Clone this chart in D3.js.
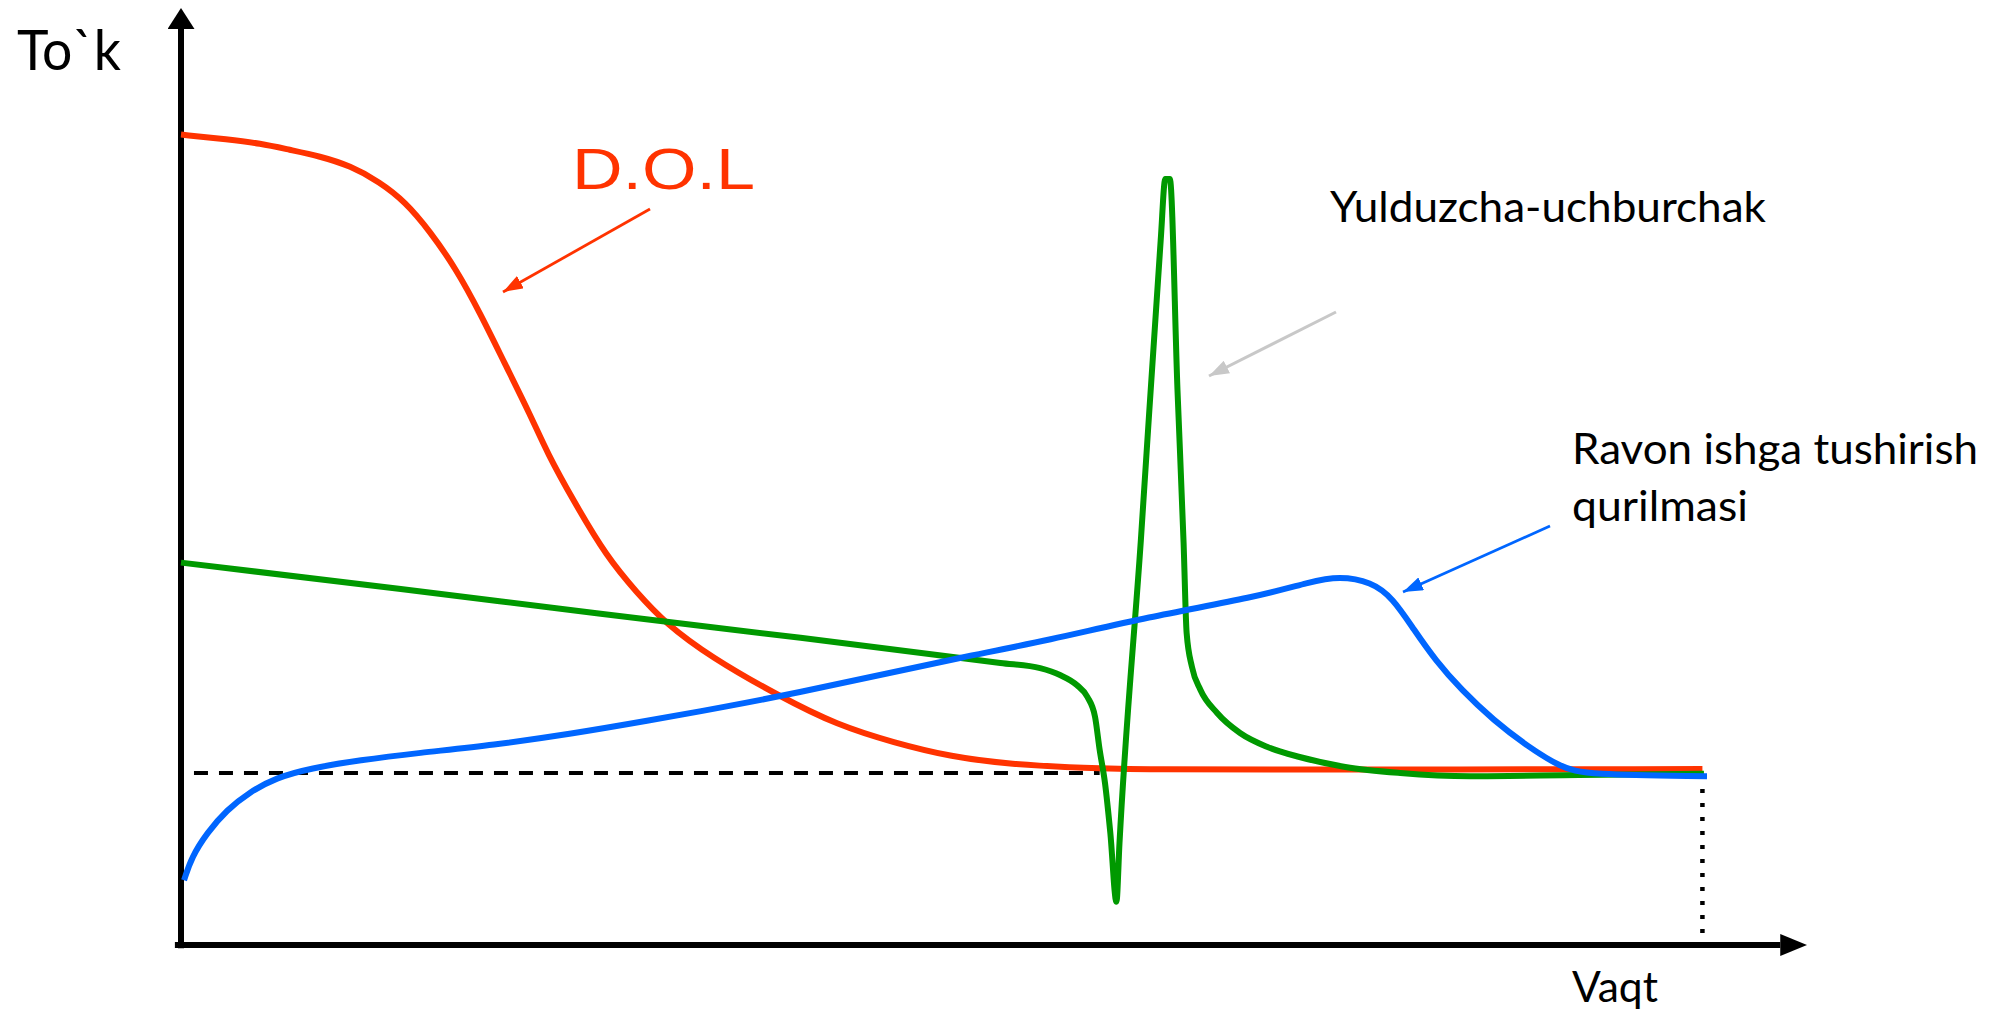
<!DOCTYPE html>
<html>
<head>
<meta charset="utf-8">
<script src="https://cdn.jsdelivr.net/npm/d3@7"></script>
<style>
  html, body { margin: 0; padding: 0; background: #fff; overflow: hidden; }
  svg { display: block; }
  .label { font-family: Lato, "Open Sans", sans-serif; fill: #000; }
</style>
</head>
<body>
<div id="app"></div>
<script>
const width = 2002,
  height = 1009;

// D.O.L (to'g'ridan-to'g'ri ulash) - current over time
const dolTime = [0, 3.1, 5.2, 7.1, 9.1, 11.1, 13.0, 14.7, 16.3, 18.0, 19.6, 21.2, 22.9, 24.0, 25.7, 27.9, 29.9, 31.7, 34.7, 39.3, 43.0, 46.7, 50.5, 54.3, 59.3, 63.3, 73.3, 99.7];
const dolCurrent = [101.3, 100.7, 100.2, 99.4, 98.6, 97.4, 95.4, 92.9, 89.25, 84.6, 79.0, 72.75, 66.25, 61.5, 55.6, 48.5, 44.0, 40.3, 36.0, 31.0, 27.5, 25.3, 23.5, 22.6, 22.1, 21.95, 21.9, 22.0];

// Yulduzcha-uchburchak
const starDeltaTime = [0, 14.4, 27.5, 40.6, 53.7, 56.3, 57.6, 58.7, 59.4, 59.9, 60.2, 60.55, 60.9, 61.3, 61.5, 62.9, 64.2, 64.5, 64.8, 65.3, 65.7, 65.9, 66.25, 66.8, 67.9, 69.4, 71.2, 73.3, 76.3, 79.9, 84.5, 91.6, 99.8];
const starDeltaCurrent = [47.8, 44.5, 41.4, 38.4, 35.25, 34.6, 33.75, 32.5, 31.0, 28.5, 24.4, 20.25, 14.0, 5.4, 12.75, 50.6, 88.1, 95.75, 95.75, 69.4, 50.3, 39.0, 34.75, 31.9, 29.0, 26.5, 24.75, 23.5, 22.25, 21.5, 21.1, 21.25, 21.4];

// Ravon ishga tushirish qurilmasi
const softTime = [0.2, 0.7, 1.7, 3.0, 4.5, 6.2, 8.5, 11.7, 15.5, 20.5, 25.6, 30.5, 35.6, 40.6, 45.8, 51.0, 56.9, 63.3, 70.5, 74.0, 75.9, 78.0, 79.4, 80.8, 82.2, 83.9, 86.0, 88.3, 90.4, 92.1, 100];
const softCurrent = [8.1, 11.0, 14.0, 16.9, 19.1, 20.9, 22.1, 23.1, 24.0, 25.0, 26.4, 28.0, 29.75, 31.6, 33.75, 35.9, 38.1, 41.0, 43.5, 45.4, 46.1, 45.4, 43.4, 39.4, 35.6, 31.9, 28.1, 24.75, 22.25, 21.25, 21.1];

// nominal current level (dashed) and end of start (dotted)
const ratedCurrent = 21.5;
const ratedSpan = [0.85, 60.2];
const endTime = 99.7;
const endSpan = [0, 19.5];

const x = d3.scaleLinear().domain([0, 100]).range([181, 1707]);
const y = d3.scaleLinear().domain([0, 100]).range([945, 145]);

const svg = d3
  .select("#app")
  .append("svg")
  .attr("width", width)
  .attr("height", height)
  .style("background", "#fff");

const defs = svg.append("defs");

function addMarker(id, len, wid, color, tipAtEnd) {
  defs
    .append("marker")
    .attr("id", id)
    .attr("markerUnits", "userSpaceOnUse")
    .attr("viewBox", `0 0 ${len} ${wid}`)
    .attr("markerWidth", len)
    .attr("markerHeight", wid)
    .attr("refX", tipAtEnd ? len : 0)
    .attr("refY", wid / 2)
    .attr("orient", "auto")
    .append("path")
    .attr("d", `M0,0L${len},${wid / 2}L0,${wid}Z`)
    .attr("fill", color);
}

addMarker("axis-y", 21, 27, "#000", false);
addMarker("axis-x", 27, 22, "#000", false);
addMarker("arr-red", 20, 14, "#ff3300", true);
addMarker("arr-gray", 20, 14, "#c8c8c8", true);
addMarker("arr-blue", 20, 14, "#0066ff", true);

const line = d3
  .line()
  .x((d) => x(d[0]))
  .y((d) => y(d[1]));

//axes drawn as plain arrows, no ticks
svg
  .append("path")
  .attr("d", line([[0, -0.4], [0, 114.5]]))
  .attr("stroke", "#000")
  .attr("stroke-width", 6)
  .attr("fill", "none")
  .attr("marker-end", "url(#axis-y)");

svg
  .append("path")
  .attr("d", line([[-0.4, 0], [104.8, 0]]))
  .attr("stroke", "#000")
  .attr("stroke-width", 6)
  .attr("fill", "none")
  .attr("marker-end", "url(#axis-x)");

//reference lines
svg
  .append("path")
  .attr("d", line(ratedSpan.map((t) => [t, ratedCurrent])))
  .attr("stroke", "#000")
  .attr("stroke-width", 4)
  .attr("stroke-dasharray", "14 11")
  .attr("fill", "none");

svg
  .append("path")
  .attr("d", line(endSpan.map((c) => [endTime, c]).reverse()))
  .attr("stroke", "#000")
  .attr("stroke-width", 4.5)
  .attr("stroke-dasharray", "4 10")
  .attr("fill", "none");

//the three start curves (smooth ones use basis, the spike keeps monotone)
const series = [
  { t: dolTime, c: dolCurrent, color: "#ff3300", curve: d3.curveBasis },
  { t: starDeltaTime, c: starDeltaCurrent, color: "#009900", curve: d3.curveMonotoneX },
  { t: softTime, c: softCurrent, color: "#0066ff", curve: d3.curveBasis }
];

svg
  .selectAll("path.curve")
  .data(series)
  .join("path")
  .attr("class", "curve")
  .attr("d", (s) => line.curve(s.curve)(s.t.map((t, i) => [t, s.c[i]])))
  .attr("stroke", (s) => s.color)
  .attr("stroke-width", 6)
  .attr("stroke-linejoin", "round")
  .attr("fill", "none");

//annotation arrows
const arrows = [
  { from: [650, 209], to: [503, 292], color: "#ff3300", w: 2.8, m: "arr-red" },
  { from: [1336, 312], to: [1209, 376], color: "#c8c8c8", w: 3, m: "arr-gray" },
  { from: [1550, 526], to: [1403, 592], color: "#0066ff", w: 2.8, m: "arr-blue" }
];

svg
  .selectAll("line.arrow")
  .data(arrows)
  .join("line")
  .attr("class", "arrow")
  .attr("x1", (d) => d.from[0])
  .attr("y1", (d) => d.from[1])
  .attr("x2", (d) => d.to[0])
  .attr("y2", (d) => d.to[1])
  .attr("stroke", (d) => d.color)
  .attr("stroke-width", (d) => d.w)
  .attr("marker-end", (d) => `url(#${d.m})`);

//labels
const labels = [
  { text: "To`k", x: 17, y: 70, size: 57, len: 104 },
  { text: "Yulduzcha-uchburchak", x: 1330, y: 222, size: 43, len: 436 },
  { text: "Ravon ishga tushirish", x: 1572, y: 464, size: 43, len: 406 },
  { text: "qurilmasi", x: 1572, y: 521, size: 43, len: 176 },
  { text: "Vaqt", x: 1572, y: 1002, size: 42, len: 86 }
];

svg
  .selectAll("text.label")
  .data(labels)
  .join("text")
  .attr("class", "label")
  .attr("x", (d) => d.x)
  .attr("y", (d) => d.y)
  .attr("font-size", (d) => d.size)
  .attr("textLength", (d) => d.len)
  .attr("lengthAdjust", "spacingAndGlyphs")
  .text((d) => d.text);

svg
  .append("text")
  .attr("x", 572)
  .attr("y", 189)
  .attr("font-family", "'Liberation Sans', Arial, sans-serif")
  .attr("font-size", 57)
  .attr("fill", "#ff3300")
  .attr("textLength", 183)
  .attr("lengthAdjust", "spacingAndGlyphs")
  .text("D.O.L");
</script>
</body>
</html>
